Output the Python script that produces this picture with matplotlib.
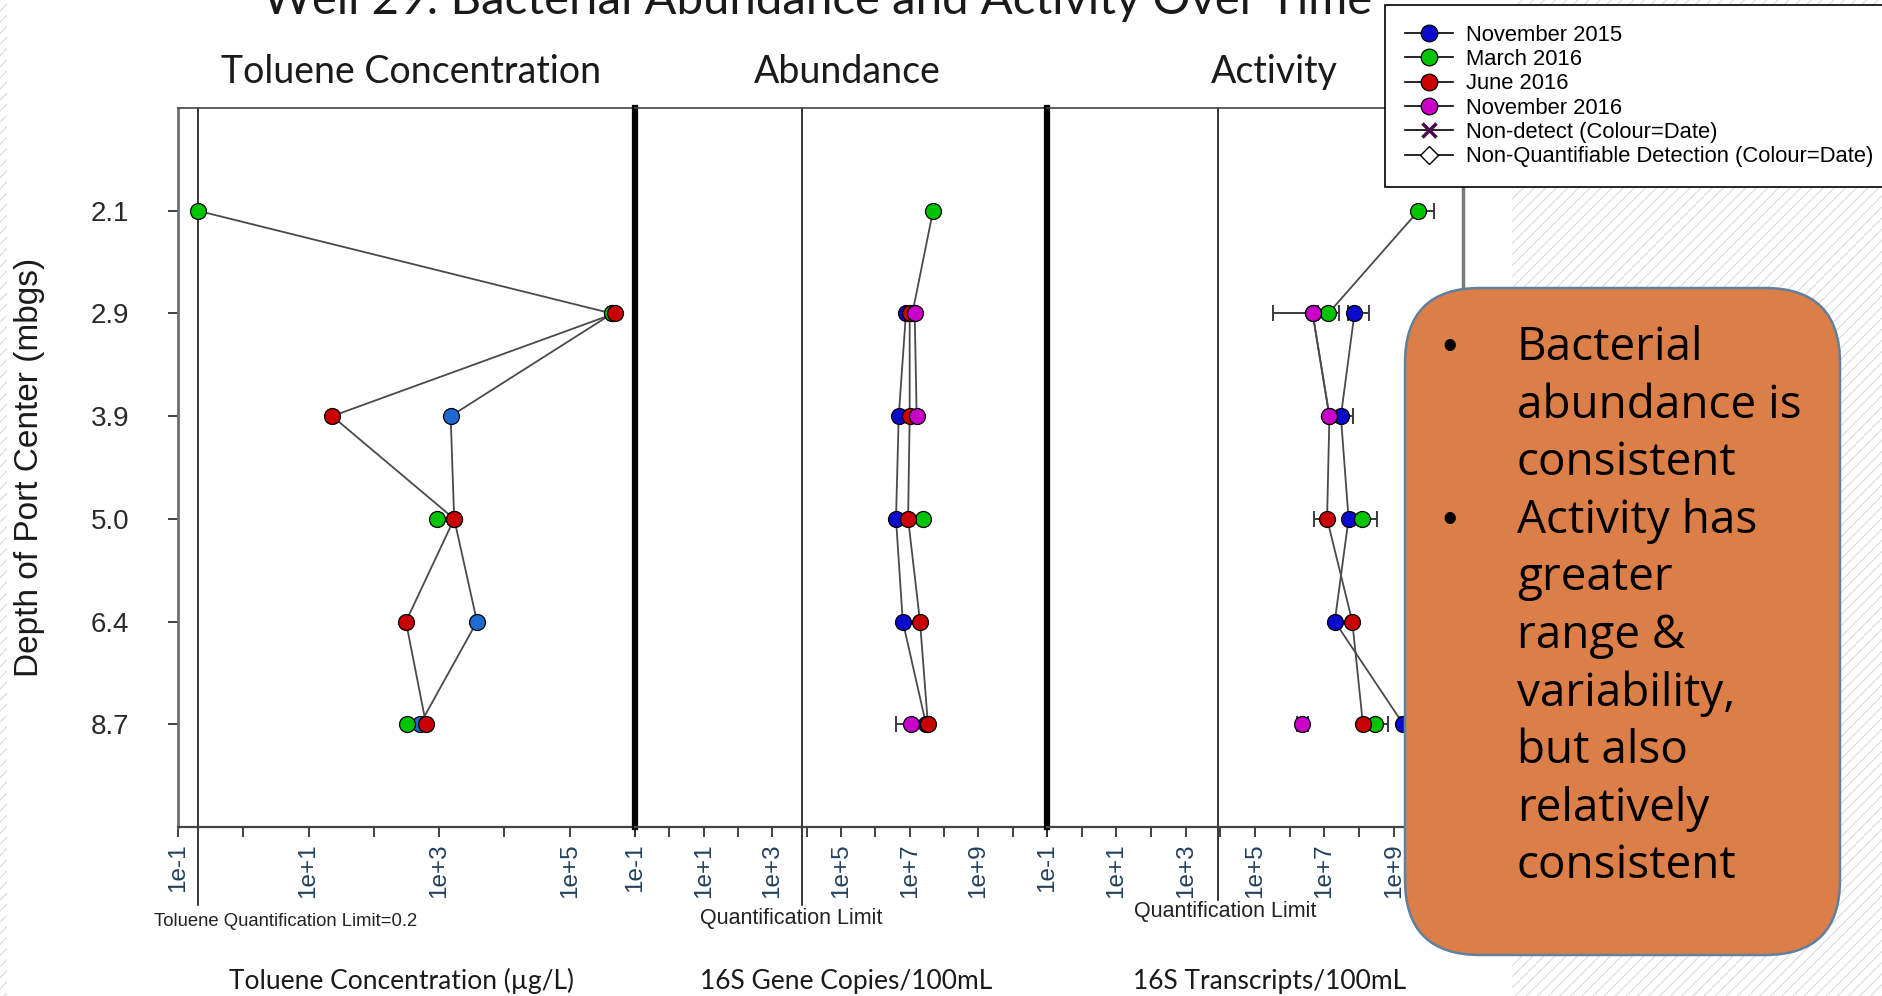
import numpy as np
import matplotlib
matplotlib.use("Agg")
import matplotlib.pyplot as plt
from matplotlib.lines import Line2D
from matplotlib.patches import Rectangle, FancyBboxPatch
from matplotlib.ticker import FixedLocator, FuncFormatter, NullLocator

plt.rcParams['font.family'] = ['Liberation Sans', 'DejaVu Sans']
plt.rcParams['hatch.linewidth'] = 0.7

nan = np.nan

# ---------------- data ----------------
depths = ["2.1", "2.9", "3.9", "5.0", "6.4", "8.7"]
dates = ["November 2015", "March 2016", "June 2016", "November 2016"]
date_colors = ['#0a0acc', '#00c400', '#c80000', '#c800c8']

# toluene (ug/L), one list per sampling date, ordered like depths
tol_nov15 = [nan, 4.5e5, 1500, 1700, 3800, 510]
tol_mar16 = [0.2, 4.4e5, nan, 930, nan, 325]
tol_jun16 = [nan, 4.9e5, 23, 1700, 310, 630]
tol_nov16 = [nan, nan, nan, nan, nan, nan]

# 16S gene copies / 100 mL
abn_nov15 = [nan, 7.8e6, 4.8e6, 4.0e6, 6.3e6, 3.0e7]
abn_mar16 = [4.8e7, 1.2e7, nan, 2.5e7, nan, nan]
abn_jun16 = [nan, 1.0e7, 1.0e7, 9.0e6, 2.0e7, 3.4e7]
abn_nov16 = [nan, 1.4e7, 1.6e7, nan, nan, 1.1e7]

# 16S transcripts / 100 mL
act_nov15 = [nan, 7.4e7, 3.0e7, 5.0e7, 2.0e7, 1.9e9]
act_mar16 = [5.2e9, 1.3e7, nan, 1.26e8, nan, 2.8e8]
act_jun16 = [nan, 4.6e6, 1.4e7, 1.2e7, 6.4e7, 1.3e8]
act_nov16 = [nan, 4.6e6, 1.4e7, nan, nan, 2.3e6]

# error bars: (date, depth, low, high)
abn_bars = [
    ("November 2016", "8.7", 4.0e6, 1.1e7),
    ("June 2016", "8.7", 2.8e7, 4.2e7),
]
act_bars = [
    ("March 2016", "2.1", 5.2e9, 1.5e10),
    ("November 2016", "2.9", 3.4e5, 6.5e6),
    ("March 2016", "2.9", 1.3e7, 2.6e7),
    ("November 2015", "2.9", 4.7e7, 2.0e8),
    ("November 2015", "3.9", 3.0e7, 6.9e7),
    ("June 2016", "5.0", 4.9e6, 1.2e7),
    ("March 2016", "5.0", 1.26e8, 3.2e8),
    ("November 2016", "8.7", 1.6e6, 3.3e6),
    ("March 2016", "8.7", 2.8e8, 6.8e8),
    ("November 2015", "8.7", 1.5e9, 1.9e9),
]

toluene_limit = 0.2
abn_limit = 7.4e3
act_limit = 8.7e3

note_lines = ["Bacterial", "abundance is", "consistent", "Activity has",
              "greater", "range &", "variability,", "but also",
              "relatively", "consistent"]
bullet_rows = [0, 3]

# ---------------- figure ----------------
W, H = 1883, 996
fig = plt.figure(figsize=(W / 100, H / 100), dpi=100)
fig.patch.set_facecolor('white')


def fx(px):
    return px / W


def fy(py):
    return 1 - py / H


# hatched slide background at the edges
for x0, x1 in [(0, 7), (1512, W)]:
    fig.add_artist(Rectangle((fx(x0), 0), fx(x1) - fx(x0), 1, transform=fig.transFigure,
                             facecolor='white', edgecolor='#d6d6d6', lw=0,
                             hatch='///', zorder=-1))

top, bottom = 108, 827
panels = [(178, 635, -1, 6), (635, 1047, -1, 11), (1047, 1463, -1, 11)]


def decade_label(v, pos, e1):
    e = int(round(np.log10(v)))
    return f"1e{e:+d}" if e % 2 != 0 and e < e1 else ""


axes = []
for x0, x1, e0, e1 in panels:
    ax = fig.add_axes([fx(x0), fy(bottom), (x1 - x0) / W, (bottom - top) / H])
    ax.set_xscale('log')
    ax.set_xlim(10.0 ** e0, 10.0 ** e1)
    ax.set_ylim(len(depths), -1)
    ax.xaxis.set_major_locator(FixedLocator(10.0 ** np.arange(e0, e1 + 1)))
    ax.xaxis.set_minor_locator(NullLocator())
    ax.xaxis.set_major_formatter(FuncFormatter(lambda v, pos, e1=e1: decade_label(v, pos, e1)))
    ax.tick_params(axis='x', direction='out', length=7, width=1.3, color='#333333',
                   labelrotation=90, labelsize=17.5, labelcolor='#23405f', pad=5)
    for s in ax.spines.values():
        s.set_color('#444444')
        s.set_linewidth(1.2)
    ax.spines['bottom'].set_linewidth(1.6)
    ax.spines['right'].set_visible(False)
    axes.append(ax)

ax_tol, ax_abn, ax_act = axes

ax_tol.set_yticks(np.arange(len(depths)))
ax_tol.set_yticklabels(depths)
ax_tol.tick_params(axis='y', direction='out', length=7, width=1.3, color='#333333',
                   labelsize=20, labelcolor='#2a2a2a', pad=28)
ax_tol.spines['left'].set_color('#707070')
ax_tol.spines['left'].set_linewidth(2)
for ax in (ax_abn, ax_act):
    ax.tick_params(axis='y', left=False, labelleft=False)
    ax.spines['left'].set_color('black')
    ax.spines['left'].set_linewidth(4.5)
ax_act.spines['right'].set_visible(True)
ax_act.spines['right'].set_color('#7a7a7a')
ax_act.spines['right'].set_linewidth(2.5)

fig.text(fx(30), fy(467), "Depth of Port Center (mbgs)", rotation=90, ha='center', va='center',
         fontsize=24, color='#1a1a1a', transform=fig.transFigure)

y_idx = np.arange(len(depths))


def draw_panel(ax, series, bars, blue=None):
    cols = list(date_colors)
    if blue:
        cols[0] = blue
    for vals in series:
        ax.plot(vals, y_idx, color='#4a4a4a', lw=1.3, zorder=2)
    for date, depth, lo, hi in bars:
        i = dates.index(date)
        j = depths.index(depth)
        v = series[i][j]
        ax.errorbar([v], [j], xerr=[[v - lo], [hi - v]], fmt='none', ecolor='#3a3a3a',
                    elinewidth=1.4, capsize=5.5, capthick=1.4, zorder=3)
    for vals, c in zip(series, cols):
        ax.plot(vals, y_idx, ls='none', marker='o', ms=11.5, mfc=c, mec='black',
                mew=0.9, zorder=4)


draw_panel(ax_tol, [tol_nov15, tol_mar16, tol_jun16, tol_nov16], [], blue='#1f6ad0')
draw_panel(ax_abn, [abn_nov15, abn_mar16, abn_jun16, abn_nov16], abn_bars)
draw_panel(ax_act, [act_nov15, act_mar16, act_jun16, act_nov16], act_bars)

# quantification limit lines run below the axis into the label area
for ax, lim, end in [(ax_tol, toluene_limit, 905), (ax_abn, abn_limit, 905), (ax_act, act_limit, 900)]:
    ax.plot([lim, lim], [1.0, (bottom - end) / (bottom - top)], transform=ax.get_xaxis_transform(),
            color='black', lw=1.1, clip_on=False, zorder=1)

small = dict(transform=fig.transFigure, ha='center', va='center', color='#222222')
fig.text(fx(286), fy(921), "Toluene Quantification Limit=0.2", fontsize=13.3, **small)
fig.text(fx(791), fy(918), "Quantification Limit", fontsize=15.5, **small)
fig.text(fx(1225), fy(911), "Quantification Limit", fontsize=15.5, **small)

# titles
calib = dict(transform=fig.transFigure, family=['Lato', 'DejaVu Sans'], color='#1a1a1a')
fig.text(fx(263), fy(14), "Well 29: Bacterial Abundance and Activity Over Time",
         ha='left', va='baseline', fontsize=34, **calib)
for label, cx in [("Toluene Concentration", 411), ("Abundance", 847), ("Activity", 1274)]:
    fig.text(fx(cx), fy(83), label, ha='center', va='baseline', fontsize=27, **calib)
for label, cx in [("Toluene Concentration (\u00b5g/L)", 402), ("16S Gene Copies/100mL", 846),
                  ("16S Transcripts/100mL", 1270)]:
    fig.text(fx(cx), fy(981), label, ha='center', va='center', fontsize=19, **calib)

# legend
handles = [Line2D([], [], color='black', lw=1.2, marker='o', ms=12, mfc=c, mec='black', mew=0.9)
           for c in date_colors]
handles.append(Line2D([], [], color='black', lw=1.2, marker='x', ms=10, mec='#4a0a4a', mew=2.5))
handles.append(Line2D([], [], color='black', lw=1.2, marker='D', ms=9, mfc='white', mec='black', mew=1))
labels = dates + ["Non-detect (Colour=Date)", "Non-Quantifiable Detection (Colour=Date)"]
leg = fig.legend(handles, labels, loc='upper left', bbox_to_anchor=(fx(1385), fy(5)),
                 fontsize=15.8, frameon=True, fancybox=False, framealpha=1, edgecolor='black',
                 borderaxespad=0, borderpad=0.9, handlelength=2.2, handletextpad=0.6,
                 labelspacing=0.15)
leg.get_frame().set_linewidth(1.2)
leg.set_zorder(5)

# note box
box = FancyBboxPatch((14.05, (H - 955) / 100), 4.35, (955 - 288) / 100,
                     boxstyle="round,pad=0,rounding_size=0.75", transform=fig.dpi_scale_trans,
                     facecolor='#db7e47', edgecolor='#60809e', lw=1.8, zorder=6)
fig.add_artist(box)
for i, line in enumerate(note_lines):
    yy = 348 + i * 57.6
    fig.text(fx(1517), fy(yy), line, ha='left', va='center', fontsize=33,
             family=['Open Sans', 'DejaVu Sans'], color='black', zorder=7,
             transform=fig.transFigure)
    if i in bullet_rows:
        fig.text(fx(1450), fy(yy), "\u2022", ha='center', va='center', fontsize=30,
                 color='black', zorder=7, transform=fig.transFigure)

fig.savefig("out.png", dpi=100, facecolor='white')
